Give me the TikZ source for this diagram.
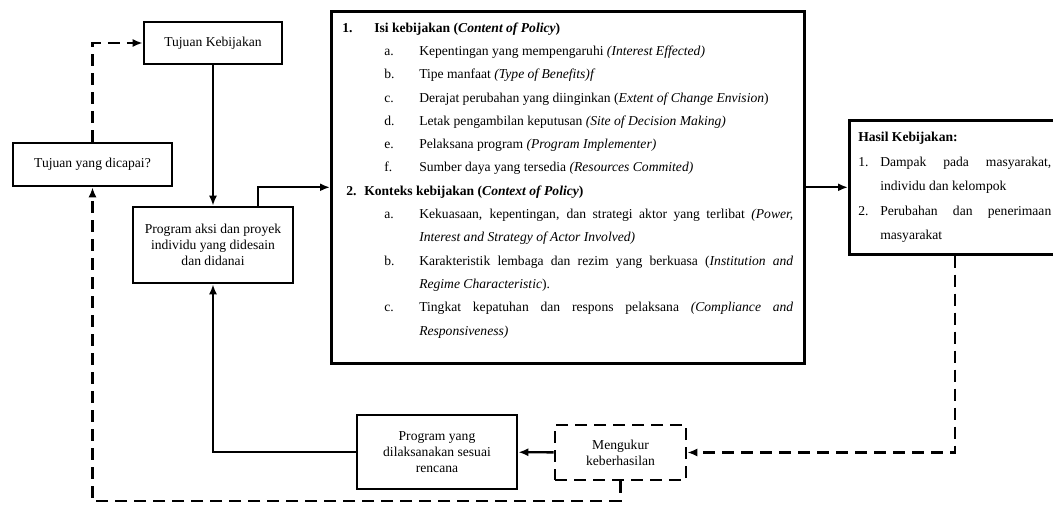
\documentclass[tikz,border=0pt]{standalone}
\usepackage{fontspec}
\setmainfont{Liberation Serif}
\usetikzlibrary{arrows.meta}

\newcommand{\butir}[2]{\hangindent=77pt\hangafter=1\hspace*{42pt}\makebox[35pt][l]{#1}#2\par}

\begin{document}
\begin{tikzpicture}[x=1pt,y=-1pt,
    kotak/.style={draw,line width=2.6pt,align=center,inner sep=0pt,font=\fontsize{13.6}{16}\selectfont},
    kotakputus/.style={kotak,dash pattern=on 12pt off 7pt},
    panah/.style={line width=2.4pt,-{Latex[length=10pt,width=8pt]}},
    panahputus/.style={panah,dash pattern=on 12pt off 7pt}]
	\useasboundingbox (0,0) rectangle (1053,505);

	% Kotak kiri
	\node[kotak,minimum width=138,minimum height=42] (tujuan) at (213,43) {Tujuan Kebijakan};
	\node[kotak,minimum width=159,minimum height=43] (dicapai) at (92.5,164.5) {Tujuan yang dicapai?};
	\node[kotak,minimum width=160,minimum height=76] (aksi) at (213,245) {Program aksi dan proyek\\individu yang didesain\\dan didanai};

	% Kotak isi dan konteks
	\node[kotak,anchor=north west,align=justify,minimum width=473,minimum height=352,text width=451,inner xsep=11,
	      font={\fontsize{13.6}{23.3}\selectfont\parindent=0pt}] (isi) at (330,10) {%
		\makebox[32pt][l]{\textbf{1.}}\textbf{Isi kebijakan (\textit{Content of Policy})}\par
		\butir{a.}{Kepentingan yang mempengaruhi \textit{(Interest Effected)}}
		\butir{b.}{Tipe manfaat \textit{(Type of Benefits)f}}
		\butir{c.}{Derajat perubahan yang diinginkan (\textit{Extent of Change Envision})}
		\butir{d.}{Letak pengambilan keputusan \textit{(Site of Decision Making)}}
		\butir{e.}{Pelaksana program \textit{(Program Implementer)}}
		\butir{f.}{Sumber daya yang tersedia \textit{(Resources Commited)}}
		\hspace*{4pt}\makebox[18pt][l]{\textbf{2.}}\textbf{Konteks kebijakan (\textit{Context of Policy})}\par
		\butir{a.}{Kekuasaan, kepentingan, dan strategi aktor yang terlibat \textit{(Power,}\linebreak\textit{Interest and Strategy of Actor Involved)}}
		\butir{b.}{Karakteristik lembaga dan rezim yang berkuasa (\textit{Institution and}\linebreak\textit{Regime Characteristic}).}
		\butir{c.}{Tingkat kepatuhan dan respons pelaksana \textit{(Compliance and}\linebreak\textit{Responsiveness)}}
		\nointerlineskip\rule{0pt}{14pt}};

	% Hasil
	\node[kotak,anchor=north west,align=justify,minimum height=134,text width=193,inner xsep=9,
	      font={\fontsize{13.6}{24.5}\selectfont\parindent=0pt}] (hasil) at (848,119) {%
		\textbf{Hasil Kebijakan:}\par
		\hangindent=22pt\hangafter=1\makebox[22pt][l]{1.}Dampak pada masyarakat,\linebreak individu dan kelompok\par
		\hangindent=22pt\hangafter=1\makebox[22pt][l]{2.}Perubahan dan penerimaan\linebreak masyarakat\par};

	% Kotak bawah
	\node[kotak,minimum width=160,minimum height=74] (laksana) at (437,452) {Program yang\\dilaksanakan sesuai\\rencana};
	\node[kotakputus,minimum width=131,minimum height=55] (ukur) at (620.5,452.5) {Mengukur\\keberhasilan};
	\coordinate (sudut) at (92.5,501);

	% Panah
	\draw[panah] (tujuan) -- (aksi);
	\draw[panah] ([xshift=45pt]aksi.north) |- (isi.west);
	\draw[panah] (isi.east) -- (hasil.west);
	\draw[panahputus] (hasil.south) |- (ukur.east);
	\draw[panah] (ukur) -- (laksana);
	\draw[panah] (laksana.west) -| (aksi.south);
	\draw[panahputus] (ukur.south) |- (sudut) -- (dicapai.south);
	\draw[panahputus] (dicapai.north) |- (tujuan.west);
\end{tikzpicture}
\end{document}
